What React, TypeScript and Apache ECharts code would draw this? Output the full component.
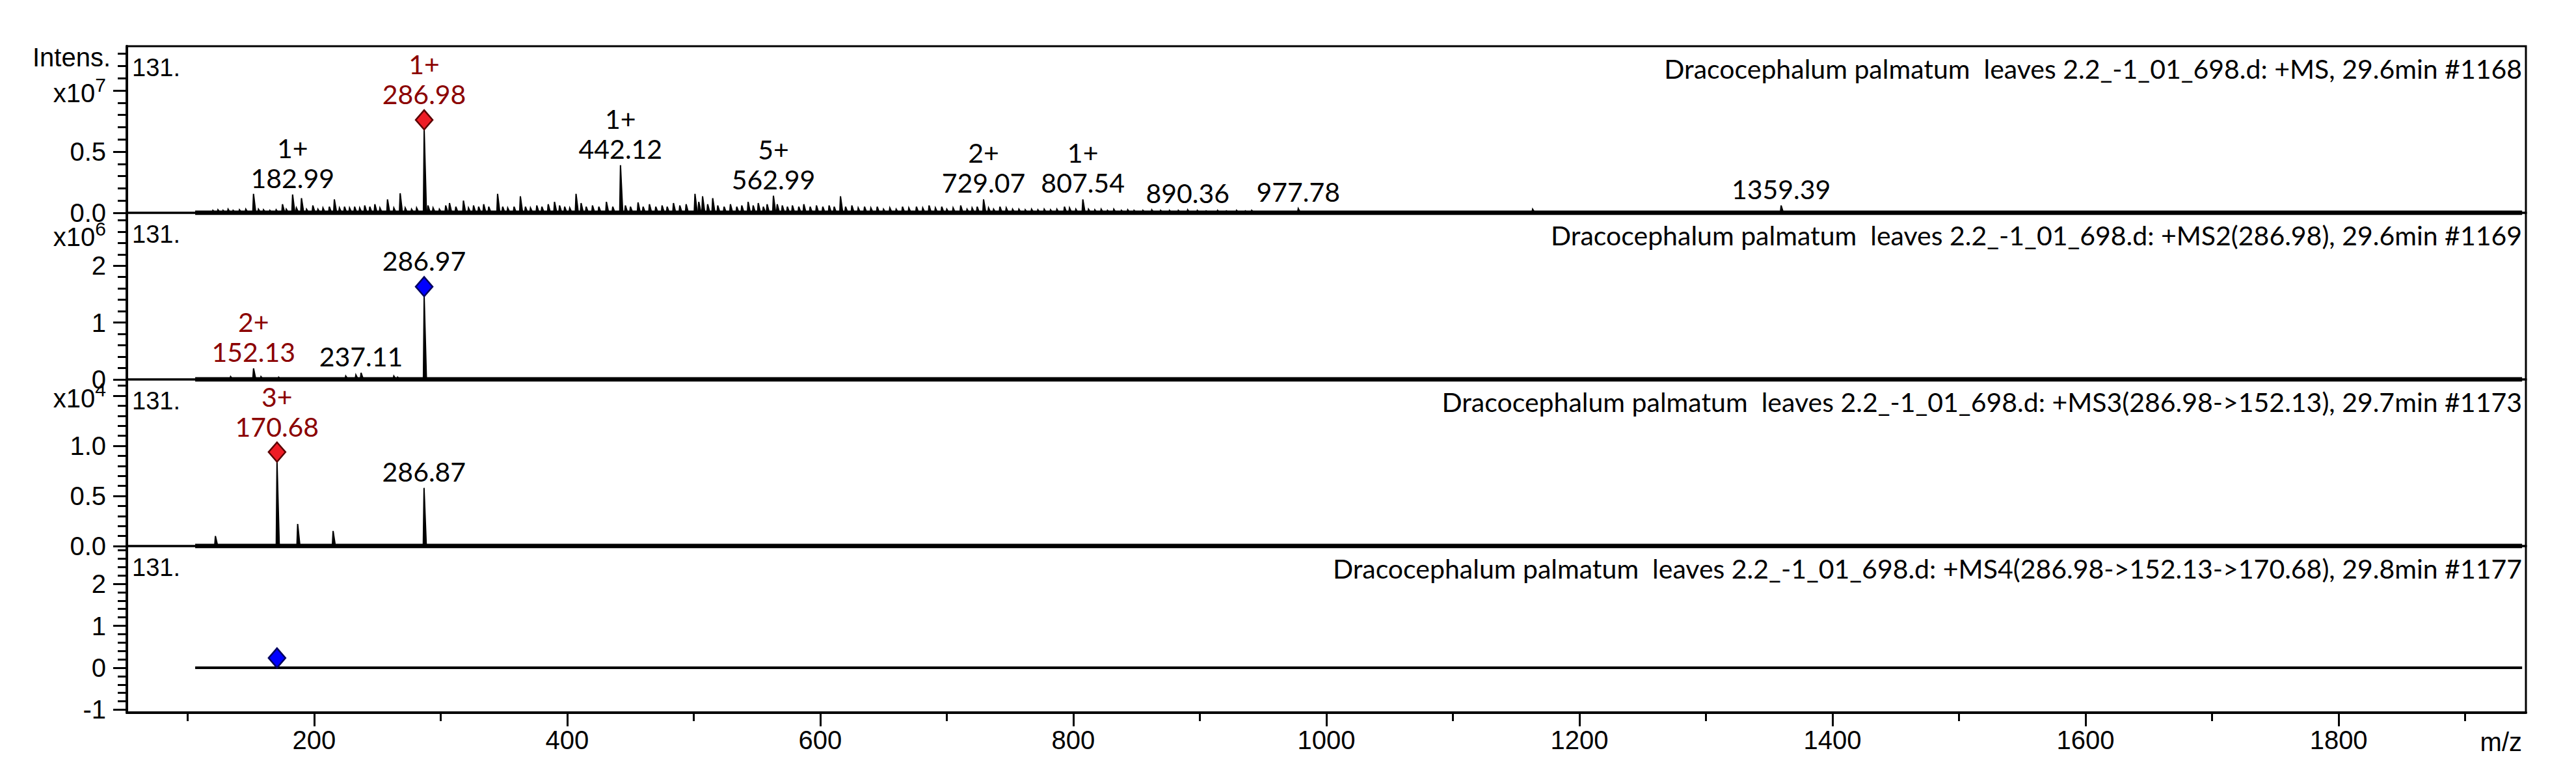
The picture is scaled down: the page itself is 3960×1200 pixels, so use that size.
import React, { useEffect, useRef } from 'react';
import * as echarts from 'echarts';

// ---------- data ----------
const MZ_MIN = 52;
const MZ_MAX = 1948;
const TRACE_RANGE: [number, number] = [106, 1945];

const xMajorTicks = [200, 400, 600, 800, 1000, 1200, 1400, 1600, 1800];
const xMinorTicks = [100, 300, 500, 700, 900, 1100, 1300, 1500, 1700, 1900];

// MS1 (+MS, 29.6min #1168) peaks: [m/z, intensity]
const ms1Peaks: [number, number][] = [
  [120, 2e5], [124, 2.5e5], [128, 2e5], [132, 3e5], [136, 2e5], [141, 2.5e5], [146, 3e5],
  [152.1, 1.55e6], [156, 3e5], [160, 2.5e5], [165, 2e5], [170, 2.5e5],
  [175, 7e5], [178, 3e5], [182.99, 1.5e6], [186, 4e5], [190, 1.2e6], [194, 3e5],
  [199, 6e5], [203, 3e5], [207, 4e5], [212, 5e5], [216, 1.1e6], [220, 4e5], [224, 5e5],
  [228, 4e5], [232, 5e5], [236, 4e5], [240, 6e5], [244, 5e5], [248, 7e5], [252, 4e5],
  [258, 1.1e6], [263, 4e5], [268, 1.6e6], [272, 4e5], [277, 3e5], [281, 4e5],
  [286.98, 6.8e6], [290, 6e5], [294, 4e5], [299, 3e5], [304, 6e5], [307, 8e5], [312, 5e5],
  [318, 1.0e6], [322, 4e5], [326, 6e5], [330, 5e5], [334, 7e5], [338, 5e5], [345, 1.55e6],
  [349, 5e5], [353, 4e5], [358, 5e5], [363, 1.35e6], [367, 5e5], [371, 4e5], [376, 6e5],
  [380, 5e5], [385, 7e5], [390, 9e5], [394, 6e5], [398, 5e5], [402, 4e5], [407, 1.55e6],
  [411, 8e5], [415, 5e5], [420, 6e5], [425, 5e5], [431, 9e5], [436, 5e5], [442.12, 3.9e6],
  [446, 6e5], [450, 5e5], [456, 8.5e5], [460, 5e5], [465, 7e5], [470, 5e5], [475, 6e5],
  [479, 5e5], [484, 8e5], [489, 6e5], [494, 7e5], [501, 1.55e6], [504, 9e5], [507, 1.35e6],
  [511, 7e5], [515, 1.2e6], [519, 6e5], [524, 5e5], [529, 7e5], [534, 5e5], [538, 6e5],
  [543, 9e5], [547, 6e5], [551, 8e5], [555, 5e5], [558, 7e5], [562.99, 1.4e6], [566, 7e5],
  [570, 6e5], [574, 5e5], [578, 6e5], [583, 5e5], [587, 7e5], [592, 5e5], [597, 6e5],
  [602, 5e5], [607, 6e5], [611, 5e5], [616, 1.35e6], [620, 5e5], [625, 6e5], [630, 4e5],
  [635, 5e5], [640, 4e5], [645, 5e5], [650, 3e5], [655, 4e5], [660, 3e5], [665, 5e5],
  [670, 4e5], [676, 5e5], [681, 4e5], [686, 6e5], [691, 4e5], [696, 5e5], [700, 3e5],
  [705, 4e5], [711, 6e5], [716, 3e5], [720, 4e5], [724, 5e5], [729.07, 1.1e6], [733, 4e5],
  [737, 3e5], [742, 5e5], [747, 4e5], [752, 3e5], [757, 3e5], [762, 2.5e5], [767, 3e5],
  [772, 2.5e5], [777, 3e5], [782, 2.5e5], [787, 3e5], [793, 5e5], [797, 4e5], [802, 3e5],
  [807.54, 1.1e6], [812, 3e5], [817, 2.5e5], [822, 3e5], [827, 2e5], [832, 3e5], [838, 2e5],
  [843, 2.5e5], [848, 2e5], [855, 2e5], [862, 2.5e5], [869, 2e5], [876, 2e5], [883, 2e5],
  [890.36, 2.5e5], [898, 2e5], [905, 1.5e5], [914, 2e5], [921, 1.5e5], [929, 2e5],
  [936, 1.5e5], [941, 2e5], [977.78, 3.5e5], [1163, 3e5], [1359.39, 6e5],
];

// MS2 (286.98) peaks
const ms2Peaks: [number, number][] = [
  [134, 5e4], [152.13, 1.95e5], [158, 5e4], [172, 4e4], [225, 6e4], [233, 8e4],
  [237.11, 1.15e5], [263, 6e4], [266, 4e4], [286.97, 1.46e6],
];

// MS3 (286.98->152.13) peaks
const ms3Peaks: [number, number][] = [
  [122, 1.0e3], [170.68, 8.4e3], [187, 2.2e3], [215, 1.5e3], [286.87, 5.8e3],
];

// MS4 (286.98->152.13->170.68): empty spectrum
const ms4Peaks: [number, number][] = [];

// annotated peaks: [m/z, charge, highlighted]
const ms1Labels: [number, string, boolean][] = [
  [182.99, '1+', false], [286.98, '1+', true], [442.12, '1+', false], [562.99, '5+', false],
  [729.07, '2+', false], [807.54, '1+', false], [890.36, '', false], [977.78, '', false],
  [1359.39, '', false],
];
const ms2Labels: [number, string, boolean][] = [
  [152.13, '2+', true], [237.11, '', false], [286.97, '', false],
];
const ms3Labels: [number, string, boolean][] = [
  [170.68, '3+', true], [286.87, '', false],
];
const ms4Labels: [number, string, boolean][] = [];

// precursor markers: [m/z, intensity, colour kind]
const precursorMarks: [number, number, 'red' | 'blue'][] = [
  [286.98, 6.8e6, 'red'],
  [286.97, 1.46e6, 'blue'],
  [170.68, 8.4e3, 'red'],
  [170.68, 0, 'blue'],
];

const titles = [
  'Dracocephalum palmatum  leaves 2.2_-1_01_698.d: +MS, 29.6min #1168',
  'Dracocephalum palmatum  leaves 2.2_-1_01_698.d: +MS2(286.98), 29.6min #1169',
  'Dracocephalum palmatum  leaves 2.2_-1_01_698.d: +MS3(286.98->152.13), 29.7min #1173',
  'Dracocephalum palmatum  leaves 2.2_-1_01_698.d: +MS4(286.98->152.13->170.68), 29.8min #1177',
];
const scanLabel = '131.';

const yRanges: [number, number][] = [[0, 1.362e7], [0, 2.93e6], [0, 1.662e4], [-1.07, 2.9]];
const yMajorTicks = [
  [0, 5e6, 1e7],
  [0, 1e6, 2e6],
  [0, 5e3, 1e4, 1.5e4],
  [-1, 0, 1, 2],
];
const yMinorTicks = [
  [1e6, 2e6, 3e6, 4e6, 6e6, 7e6, 8e6, 9e6, 1.1e7, 1.2e7, 1.3e7],
  [2e5, 4e5, 6e5, 8e5, 1.2e6, 1.4e6, 1.6e6, 1.8e6, 2.2e6, 2.4e6, 2.6e6, 2.8e6],
  [1e3, 2e3, 3e3, 4e3, 6e3, 7e3, 8e3, 9e3, 1.1e4, 1.2e4, 1.3e4, 1.4e4, 1.6e4],
  [-0.8, -0.6, -0.4, -0.2, 0.2, 0.4, 0.6, 0.8, 1.2, 1.4, 1.6, 1.8, 2.2, 2.4, 2.6, 2.8],
];
// [value, text, exponent]
const yTickLabels: [number, string, string][][] = [
  [[0, '0.0', ''], [5e6, '0.5', ''], [1e7, 'x10', '7']],
  [[0, '0', ''], [1e6, '1', ''], [2e6, '2', ''], [2.55e6, 'x10', '6']],
  [[0, '0.0', ''], [5e3, '0.5', ''], [1e4, '1.0', ''], [1.5e4, 'x10', '4']],
  [[-1, '-1', ''], [0, '0', ''], [1, '1', ''], [2, '2', '']],
];

// ---------- layout / style ----------
const GRID_LEFT = 195;
const GRID_WIDTH = 3688;
const PANEL_TOPS = [71, 327, 583, 839];
const PANEL_H = 256;
const AXIS_FONT = '"Liberation Sans", Arial, sans-serif';
const ANN_FONT = 'Lato, "Noto Sans", sans-serif';
const DARK_RED = '#8B0000';
const PEAK_LEFT = 0.6;
const PEAK_RIGHT = 1.8;

const panels = [
  { peaks: ms1Peaks, labels: ms1Labels },
  { peaks: ms2Peaks, labels: ms2Labels },
  { peaks: ms3Peaks, labels: ms3Labels },
  { peaks: ms4Peaks, labels: ms4Labels },
];

function buildOption(): any {
  const grid = PANEL_TOPS.map((top) => ({
    left: GRID_LEFT,
    top,
    width: GRID_WIDTH,
    height: PANEL_H,
    show: true,
    borderColor: '#000',
    borderWidth: 3,
    backgroundColor: 'transparent',
  }));

  const xAxis: any[] = PANEL_TOPS.map((_, i) => ({
    type: 'value',
    gridIndex: i,
    min: MZ_MIN,
    max: MZ_MAX,
    position: 'bottom',
    axisLine: { show: i === 3, onZero: false, lineStyle: { color: '#000', width: 4 } },
    axisTick: {
      show: i === 3,
      customValues: xMajorTicks,
      length: 21,
      lineStyle: { color: '#000', width: 3 },
    },
    axisLabel: {
      show: i === 3,
      customValues: xMajorTicks,
      margin: 22,
      fontFamily: AXIS_FONT,
      fontSize: 40,
      color: '#000',
      formatter: (v: number) => String(v),
    },
    splitLine: { show: false },
  }));
  xAxis.push({
    type: 'value',
    gridIndex: 3,
    min: MZ_MIN,
    max: MZ_MAX,
    position: 'bottom',
    axisLine: { show: false, onZero: false },
    axisTick: {
      show: true,
      customValues: xMinorTicks,
      length: 13,
      lineStyle: { color: '#000', width: 3 },
    },
    axisLabel: { show: false },
    splitLine: { show: false },
  });

  const yAxis: any[] = [];
  PANEL_TOPS.forEach((_, i) => {
    const labelMap = new Map<number, [string, string]>();
    yTickLabels[i].forEach(([v, t, e]) => labelMap.set(v, [t, e]));
    yAxis.push({
      type: 'value',
      gridIndex: i,
      min: yRanges[i][0],
      max: yRanges[i][1],
      position: 'left',
      axisLine: { show: true, onZero: false, lineStyle: { color: '#000', width: 4 } },
      axisTick: {
        show: true,
        customValues: yMajorTicks[i],
        length: 21,
        lineStyle: { color: '#000', width: 3 },
      },
      axisLabel: {
        show: true,
        customValues: yTickLabels[i].map((d) => d[0]),
        margin: 32,
        fontFamily: AXIS_FONT,
        fontSize: 40,
        color: '#000',
        formatter: (v: number) => {
          let found: [string, string] | undefined;
          labelMap.forEach((val, key) => {
            if (Math.abs(key - v) <= Math.abs(v) * 1e-9 + 1e-9) found = val;
          });
          if (!found) return '';
          if (found[1]) return `{sp| }{b|${found[0]}}{s|${found[1]}}`;
          return found[0];
        },
        rich: {
          sp: { fontSize: 1, lineHeight: 48 },
          b: { fontFamily: AXIS_FONT, fontSize: 40, lineHeight: 40, verticalAlign: 'bottom', color: '#000' },
          s: { fontFamily: AXIS_FONT, fontSize: 30, lineHeight: 30, verticalAlign: 'top', color: '#000' },
        },
      },
      splitLine: { show: false },
    });
    yAxis.push({
      type: 'value',
      gridIndex: i,
      min: yRanges[i][0],
      max: yRanges[i][1],
      position: 'left',
      axisLine: { show: false, onZero: false },
      axisTick: {
        show: true,
        customValues: yMinorTicks[i],
        length: 14,
        lineStyle: { color: '#000', width: 3 },
      },
      axisLabel: { show: false },
      splitLine: { show: false },
    });
  });

  const series: any[] = [];
  panels.forEach((p, i) => {
    // baseline of the acquired trace
    series.push({
      type: 'line',
      xAxisIndex: i,
      yAxisIndex: 2 * i,
      data: [[TRACE_RANGE[0], 0], [TRACE_RANGE[1], 0]],
      symbol: 'none',
      lineStyle: { color: '#000', width: i === 3 ? 4 : 7 },
      silent: true,
      z: 3,
    });
    // peaks
    series.push({
      type: 'custom',
      xAxisIndex: i,
      yAxisIndex: 2 * i,
      data: p.peaks,
      encode: { x: 0, y: 1 },
      renderItem: (params: any, api: any) => {
        const mz = api.value(0);
        const h = api.value(1);
        const a = api.coord([mz - PEAK_LEFT, 0]);
        const b = api.coord([mz, h]);
        const c = api.coord([mz + PEAK_RIGHT, 0]);
        return {
          type: 'polygon',
          shape: { points: [a, b, c] },
          style: { fill: '#000', stroke: '#000', lineWidth: 2 },
        };
      },
      z: 4,
      silent: true,
    });
    // annotations
    const peakMap = new Map<number, number>();
    p.peaks.forEach(([m, v]) => peakMap.set(m, v));
    series.push({
      type: 'scatter',
      xAxisIndex: i,
      yAxisIndex: 2 * i,
      symbolSize: 1,
      itemStyle: { color: 'rgba(0,0,0,0)', opacity: 1 },
      silent: true,
      z: 6,
      data: p.labels.map(([mz, charge, hl]) => {
        const v = peakMap.get(mz) ?? 0;
        const key = hl ? 'r' : 'k';
        const txt = mz.toFixed(2);
        const hasMark = precursorMarks.some((m, mi) => mi === i && Math.abs(m[0] - mz) < 0.02);
        return {
          value: [mz, v],
          label: {
            show: true,
            position: 'top',
            distance: hasMark ? 31 : 2,
            opacity: 1,
            formatter: charge ? `{${key}|${charge}}\n{${key}|${txt}}` : `{${key}|${txt}}`,
            rich: {
              k: { fontFamily: ANN_FONT, fontSize: 41, lineHeight: 46, color: '#000' },
              r: { fontFamily: ANN_FONT, fontSize: 41, lineHeight: 46, color: DARK_RED },
            },
          },
        };
      }),
    });
  });

  // precursor diamonds
  precursorMarks.forEach(([mz, v, kind], i) => {
    series.push({
      type: 'scatter',
      xAxisIndex: i,
      yAxisIndex: 2 * i,
      symbol: 'diamond',
      symbolSize: [26, 30],
      symbolOffset: [0, -15],
      data: [[mz, v]],
      itemStyle: kind === 'red'
        ? { color: '#EE1C25', borderColor: '#5A0000', borderWidth: 2.5, opacity: 1 }
        : { color: '#0000FF', borderColor: '#000060', borderWidth: 2.5, opacity: 1 },
      silent: true,
      z: 7,
    });
  });

  const graphic: any[] = [
    {
      type: 'text',
      style: {
        text: 'Intens.', x: 170, y: 88, font: `40px ${AXIS_FONT}`, fill: '#000',
        textAlign: 'right', textVerticalAlign: 'middle', align: 'right', verticalAlign: 'middle',
      },
    },
    {
      type: 'text',
      style: {
        text: 'm/z', x: 3877, y: 1140, font: `40px ${AXIS_FONT}`, fill: '#000',
        textAlign: 'right', textVerticalAlign: 'middle', align: 'right', verticalAlign: 'middle',
      },
    },
  ];
  PANEL_TOPS.forEach((top, i) => {
    graphic.push({
      type: 'text',
      z: 10,
      style: {
        text: scanLabel, x: 203, y: top + 33, font: `38px ${AXIS_FONT}`, fill: '#000',
        textAlign: 'left', textVerticalAlign: 'middle', align: 'left', verticalAlign: 'middle',
      },
    });
    graphic.push({
      type: 'text',
      z: 10,
      style: {
        text: titles[i], x: 3877, y: top + 34, font: `41px ${ANN_FONT}`, fill: '#000',
        textAlign: 'right', textVerticalAlign: 'middle', align: 'right', verticalAlign: 'middle',
      },
    });
  });

  return {
    animation: false,
    backgroundColor: '#fff',
    grid,
    xAxis,
    yAxis,
    series,
    graphic,
  };
}

export default function App() {
  const ref = useRef<HTMLDivElement>(null);
  useEffect(() => {
    if (!ref.current) return;
    const chart = echarts.init(ref.current, undefined, { renderer: 'svg' });
    chart.setOption(buildOption());
    return () => chart.dispose();
  }, []);
  return (
    <div
      ref={ref}
      style={{ position: 'absolute', left: 0, top: 0, width: 3960, height: 1200, background: '#fff' }}
    />
  );
}
